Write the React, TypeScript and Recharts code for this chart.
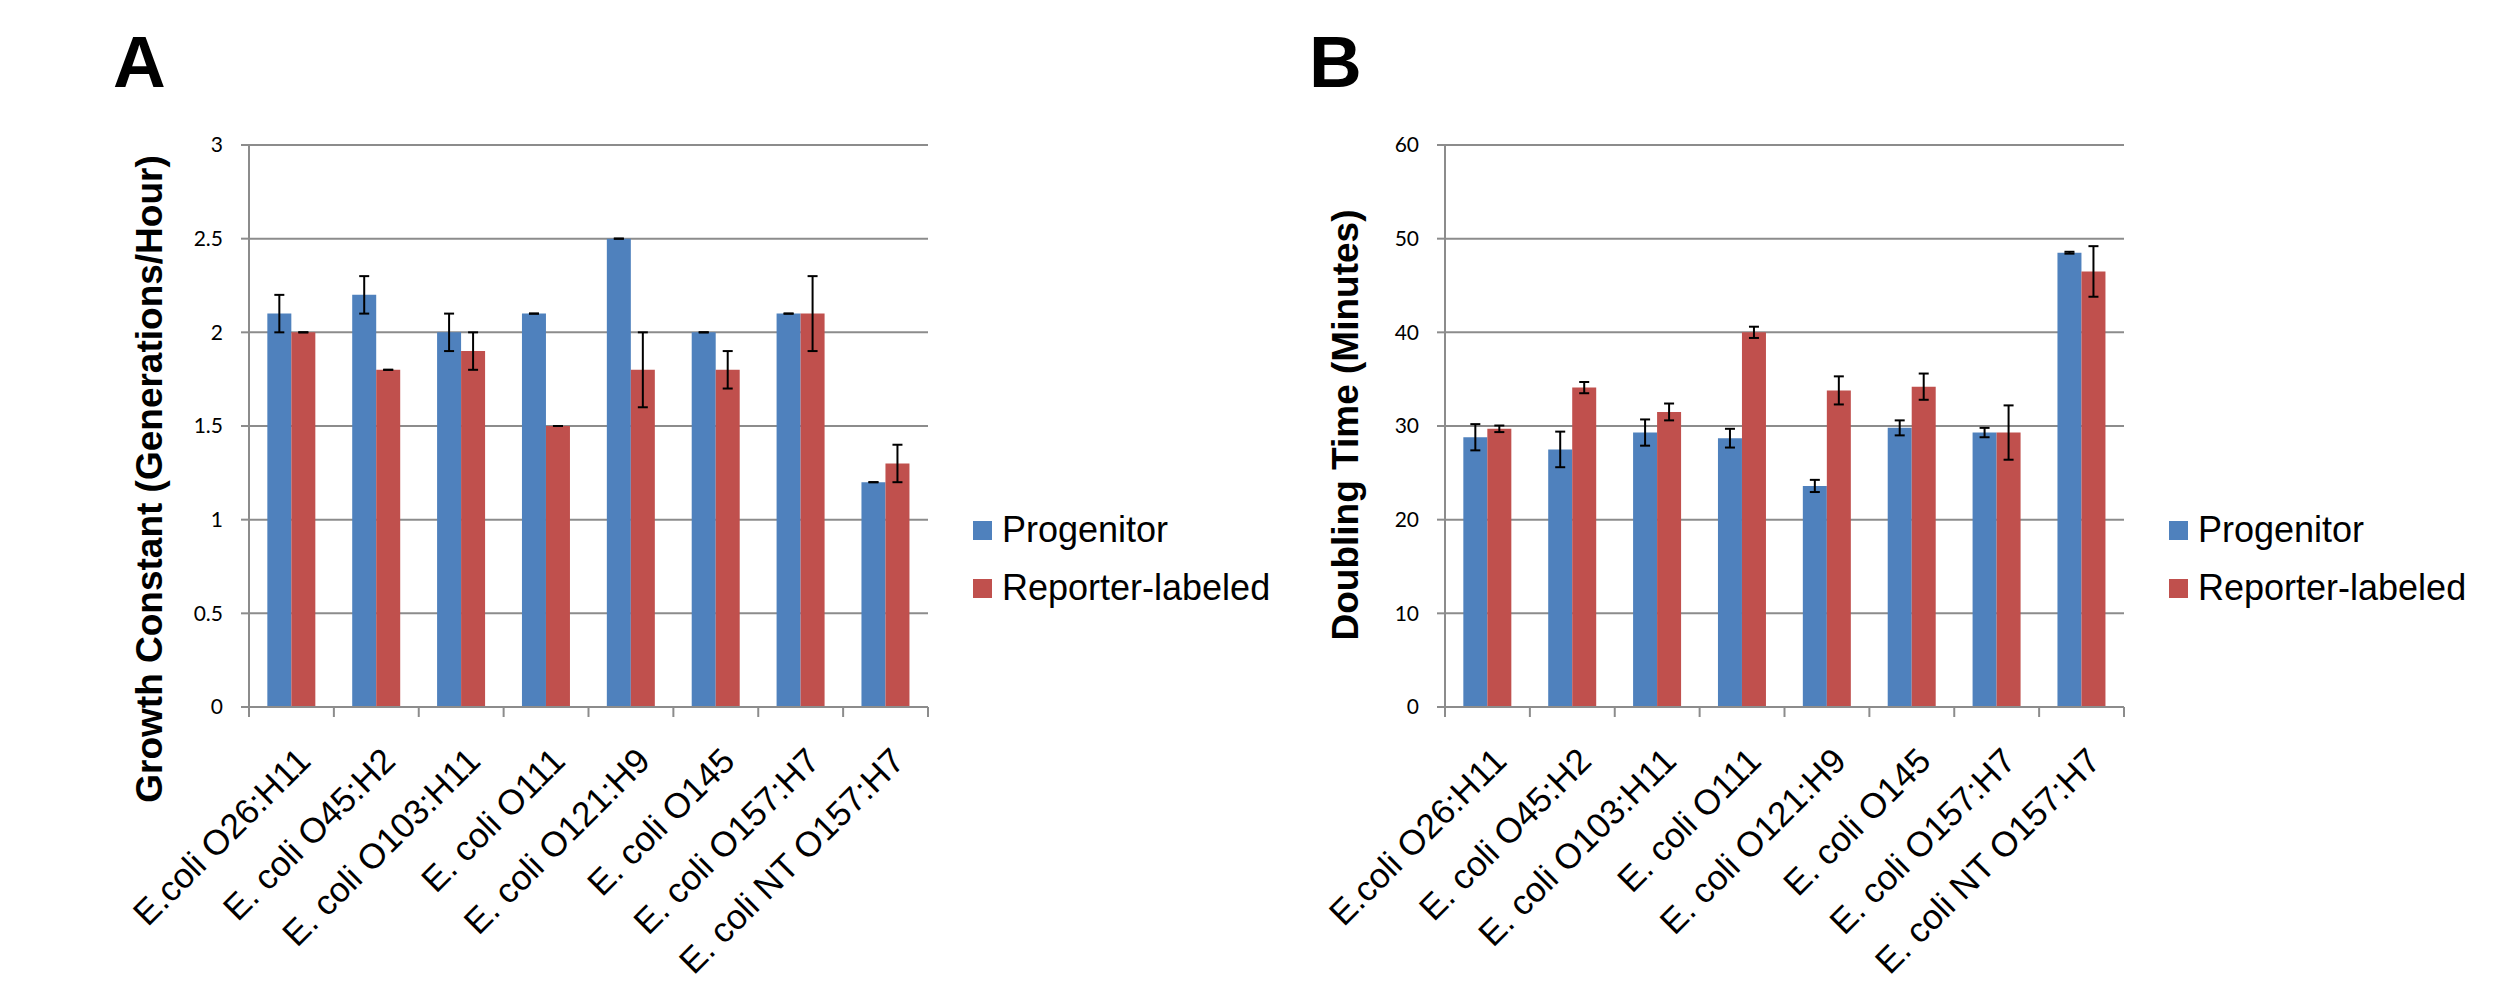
import React from "react";
import { BarChart, Bar, XAxis, YAxis, CartesianGrid, ErrorBar, Legend } from "recharts";

// categories
const strains = [
  "E.coli O26:H11",
  "E. coli O45:H2",
  "E. coli O103:H11",
  "E. coli O111",
  "E. coli O121:H9",
  "E. coli O145",
  "E. coli O157:H7",
  "E. coli NT O157:H7",
];

// panel A - growth constant
const growthProgenitor = [2.1, 2.2, 2.0, 2.1, 2.5, 2.0, 2.1, 1.2];
const growthProgenitorErr = [0.1, 0.1, 0.1, 0, 0, 0, 0, 0];
const growthReporter = [2.0, 1.8, 1.9, 1.5, 1.8, 1.8, 2.1, 1.3];
const growthReporterErr = [0, 0, 0.1, 0, 0.2, 0.1, 0.2, 0.1];
const growthTicks = [0, 0.5, 1, 1.5, 2, 2.5, 3];

// panel B - doubling time
const doublingProgenitor = [28.8, 27.5, 29.3, 28.7, 23.6, 29.8, 29.3, 48.5];
const doublingProgenitorErr = [1.4, 1.9, 1.4, 1.0, 0.65, 0.8, 0.5, 0.1];
const doublingReporter = [29.7, 34.1, 31.5, 40.0, 33.8, 34.2, 29.3, 46.5];
const doublingReporterErr = [0.35, 0.6, 0.9, 0.6, 1.5, 1.4, 2.9, 2.7];
const doublingTicks = [0, 10, 20, 30, 40, 50, 60];

const BLUE = "#4F81BD";
const RED = "#C0504D";
const AXIS = "#8c8c8c";
const ARIAL = "'Liberation Sans', Arial, sans-serif";

const W = 1300;
const H = 988;

// errors as [low, high] so that zero-width bars still get their cap drawn
const buildRows = (prog: number[], progErr: number[], rep: number[], repErr: number[]) =>
  strains.map((s, i) => ({
    strain: s,
    progenitor: prog[i],
    progErr: [progErr[i], progErr[i]],
    reporter: rep[i],
    repErr: [repErr[i], repErr[i]],
  }));

const StrainTick = (props: any) => {
  const { x, y, payload, index } = props;
  const half = payload.offset ?? 42.45;
  const bx = x + 21;
  const by = y + 56;
  return (
    <g>
      <line x1={x - half} y1={y} x2={x - half} y2={y + 10} stroke={AXIS} strokeWidth={2} />
      {index === strains.length - 1 && (
        <line x1={x + half} y1={y} x2={x + half} y2={y + 10} stroke={AXIS} strokeWidth={2} />
      )}
      <text
        x={bx}
        y={by}
        textAnchor="end"
        transform={`rotate(-45 ${bx} ${by})`}
        fontFamily={ARIAL}
        fontSize={35}
        fill="#000"
      >
        {payload.value}
      </text>
    </g>
  );
};

const renderLegend = (props: any) => {
  const { payload } = props;
  return (
    <div style={{ fontFamily: ARIAL, fontSize: 36, color: "#000" }}>
      {payload.map((e: any) => (
        <div key={e.value} style={{ display: "flex", alignItems: "center", height: 58 }}>
          <span style={{ width: 19, height: 19, background: e.color, marginRight: 10, display: "inline-block" }} />
          <span style={{ whiteSpace: "nowrap" }}>{e.value}</span>
        </div>
      ))}
    </div>
  );
};

type PanelProps = {
  letter: string;
  title: string;
  titleY: number;
  left: number;
  rows: any[];
  ticks: number[];
};

const Panel = ({ letter, title, titleY, left, rows, ticks }: PanelProps) => (
  <div style={{ position: "absolute", left, top: 0, width: W, height: H }}>
    <BarChart
      width={W}
      height={H}
      data={rows}
      margin={{ top: 145, right: 372, bottom: 0, left: 0 }}
      barCategoryGap="21.6%"
      barGap={0}
    >
      <CartesianGrid vertical={false} stroke={AXIS} strokeWidth={2} />
      <XAxis
        dataKey="strain"
        height={281}
        interval={0}
        tickLine={false}
        tickSize={0}
        tickMargin={0}
        axisLine={{ stroke: AXIS, strokeWidth: 2 }}
        tick={<StrainTick />}
      />
      <YAxis
        width={249}
        domain={[ticks[0], ticks[ticks.length - 1]]}
        ticks={ticks}
        interval={0}
        tickSize={8}
        tickMargin={18}
        axisLine={{ stroke: AXIS, strokeWidth: 2 }}
        tickLine={{ stroke: AXIS, strokeWidth: 2 }}
        tick={{ fontFamily: "Lato, 'Open Sans', sans-serif", fontSize: 21, fill: "#000" }}
        label={() => (
          <text
            x={162}
            y={titleY}
            textAnchor="middle"
            transform={`rotate(-90 162 ${titleY})`}
            fontFamily={ARIAL}
            fontWeight="bold"
            fontSize={37}
            fill="#000"
          >
            {title}
          </text>
        )}
      />
      <Legend
        layout="horizontal"
        align="center"
        verticalAlign="middle"
        content={renderLegend}
        wrapperStyle={{ left: 973, top: 501, width: 330, height: 116 }}
      />
      <Bar dataKey="progenitor" name="Progenitor" fill={BLUE} isAnimationActive={false}>
        <ErrorBar dataKey="progErr" width={5} strokeWidth={2} stroke="#000" isAnimationActive={false} />
      </Bar>
      <Bar dataKey="reporter" name="Reporter-labeled" fill={RED} isAnimationActive={false}>
        <ErrorBar dataKey="repErr" width={5} strokeWidth={2} stroke="#000" isAnimationActive={false} />
      </Bar>
    </BarChart>
    <svg width={200} height={110} style={{ position: "absolute", left: 0, top: 0 }}>
      <text x={113} y={87} fontFamily={ARIAL} fontWeight="bold" fontSize={73} fill="#000">
        {letter}
      </text>
    </svg>
  </div>
);

export default function App() {
  const growthRows = buildRows(growthProgenitor, growthProgenitorErr, growthReporter, growthReporterErr);
  const doublingRows = buildRows(doublingProgenitor, doublingProgenitorErr, doublingReporter, doublingReporterErr);
  return (
    <div style={{ position: "absolute", left: 0, top: 0, width: 2506, height: 988, background: "#fff", overflow: "hidden" }}>
      <Panel
        letter="A"
        title="Growth Constant (Generations/Hour)"
        titleY={479}
        left={0}
        rows={growthRows}
        ticks={growthTicks}
      />
      <Panel
        letter="B"
        title="Doubling Time (Minutes)"
        titleY={425}
        left={1196}
        rows={doublingRows}
        ticks={doublingTicks}
      />
    </div>
  );
}
